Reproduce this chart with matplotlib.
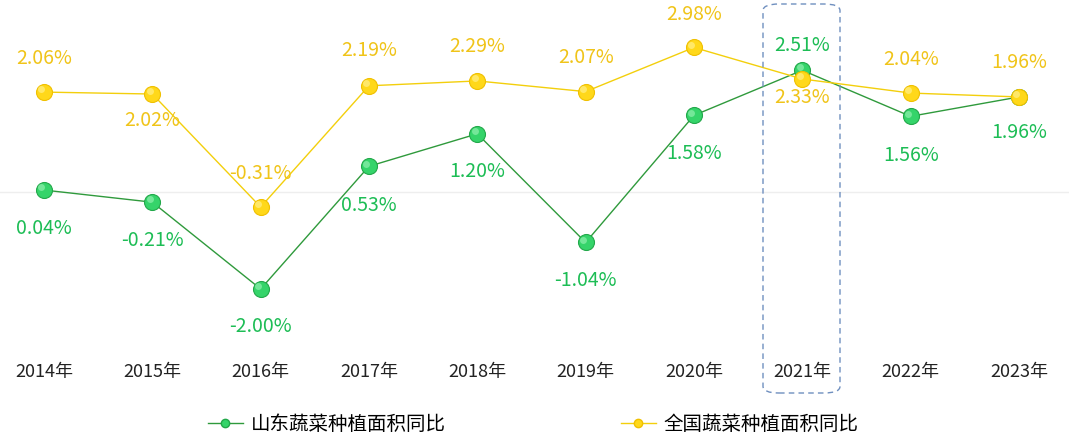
import matplotlib
matplotlib.use("Agg")
import matplotlib.pyplot as plt
import matplotlib.transforms as mtransforms
from matplotlib.patches import FancyBboxPatch
from matplotlib.lines import Line2D

plt.rcParams['font.family'] = ['Noto Sans CJK SC', 'DejaVu Sans']

years = ["2014年", "2015年", "2016年", "2017年", "2018年", "2019年", "2020年", "2021年", "2022年", "2023年"]
shandong = [0.04, -0.21, -2.00, 0.53, 1.20, -1.04, 1.58, 2.51, 1.56, 1.96]
national = [2.06, 2.02, -0.31, 2.19, 2.29, 2.07, 2.98, 2.33, 2.04, 1.96]
series_names = ["山东蔬菜种植面积同比", "全国蔬菜种植面积同比"]
# label offsets in pixels (+ above, - below)
sd_off = [-38, -38, -37, -39, -38, -38, -38, 25, -39, -36]
nat_off = [34, -26, 34, 35, 34, 34, 33, -19, 34, 34]

W, H = 1069, 441
fig = plt.figure(figsize=(W/100, H/100), dpi=100)
ax = fig.add_axes([0, 1-350/H, 1, 350/H])
x = list(range(len(years)))
ax.set_xlim(-44/108.33, (W-44)/108.33)
ax.set_ylim(-(350-192)/48.5, 192/48.5)
ax.axis('off')
ax.axhline(0, color='#eeeeee', lw=1, zorder=0)

g_line = '#2f9a3c'
g_face = '#35d46a'
g_edge = '#22a84a'
g_hi = '#8ff0ae'
g_text = '#1dbd55'
y_line = '#f3cf0c'
y_face = '#ffd81a'
y_edge = '#f0c000'
y_hi = '#fff08a'
y_text = '#f0c419'

PT = 72/100  # points per pixel
hl = mtransforms.ScaledTranslation(-2/72, 2/72, fig.dpi_scale_trans)

ax.plot(x, shandong, color=g_line, lw=1, zorder=2)
ax.plot(x, shandong, ls='none', marker='o', ms=11.5, mfc=g_face, mec=g_edge, mew=0.8, zorder=3)
ax.plot(x, shandong, ls='none', marker='o', ms=5, mfc=g_hi, mec='none', alpha=0.7,
        transform=ax.transData + hl, zorder=3.1)
ax.plot(x, national, color=y_line, lw=1, zorder=4)
ax.plot(x, national, ls='none', marker='o', ms=11.5, mfc=y_face, mec=y_edge, mew=0.8, zorder=5)
ax.plot(x, national, ls='none', marker='o', ms=5, mfc=y_hi, mec='none', alpha=0.7,
        transform=ax.transData + hl, zorder=5.1)

for i in x:
    ax.annotate(f"{shandong[i]:.2f}%", (i, shandong[i]), xytext=(0, sd_off[i]*PT),
                textcoords='offset points', ha='center', va='center', fontsize=14, color=g_text, zorder=6)
    ax.annotate(f"{national[i]:.2f}%", (i, national[i]), xytext=(0, nat_off[i]*PT),
                textcoords='offset points', ha='center', va='center', fontsize=14, color=y_text, zorder=6)

for i, lab in enumerate(years):
    ax.text(i, -(372-192)/48.5, lab, ha='center', va='center', fontsize=13, color='#222222')

# highlight box around 2021
box = FancyBboxPatch((763/W, 1-393/H), (840-763)/W, (393-4)/H,
                     boxstyle="round,pad=0,rounding_size=0.015", transform=fig.transFigure,
                     fill=False, ec='#6f8fbf', lw=1, ls=(0, (4, 3)))
fig.patches.append(box)

handles = [
    Line2D([0], [0], color=g_line, lw=1, marker='o', ms=6, mfc=g_face, mec=g_edge),
    Line2D([0], [0], color=y_line, lw=1, marker='o', ms=6, mfc=y_face, mec=y_edge),
]
fig.legend(handles, series_names, loc='center', bbox_to_anchor=(533/W, 1-424/H), ncol=2,
           frameon=False, fontsize=14, columnspacing=9.0, handlelength=1.8, handletextpad=0.4)

fig.savefig("out.png", dpi=100)
